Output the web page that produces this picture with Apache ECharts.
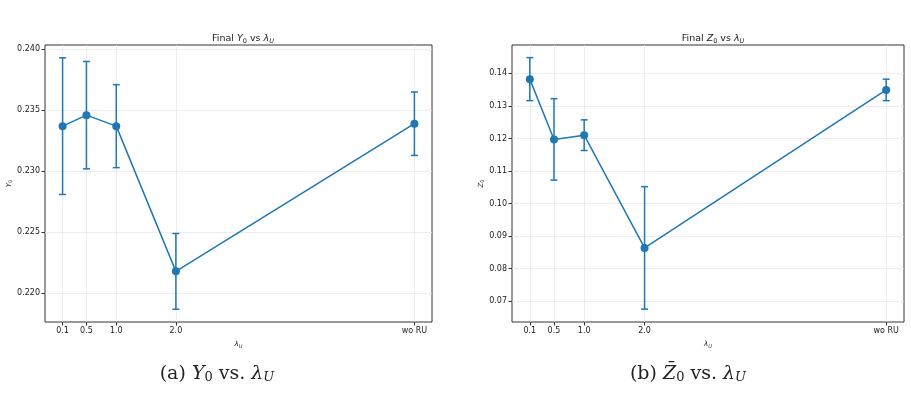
<!DOCTYPE html>
<html>
<head>
<meta charset="utf-8">
<script src="https://cdn.jsdelivr.net/npm/echarts@6/dist/echarts.min.js"></script>
<style>
  html, body { margin: 0; padding: 0; background: #fff; }
  #chart { width: 911px; height: 413px; }
</style>
</head>
<body>
<div id="chart"></div>
<script>
// x positions of the categories (wo RU placed at 6)
var lambdaPos = [0.1, 0.5, 1.0, 2.0, 6.0];
var lambdaLabels = ['0.1', '0.5', '1.0', '2.0', 'wo RU'];

var y0Mean = [0.2337, 0.2346, 0.2337, 0.2218, 0.2339];
var y0Err = [0.0056, 0.0044, 0.0034, 0.0031, 0.0026];
var y0Ticks = [0.220, 0.225, 0.230, 0.235, 0.240];

var z0Mean = [0.1382, 0.1197, 0.1210, 0.0864, 0.1349];
var z0Err = [0.0066, 0.0125, 0.0047, 0.0188, 0.0033];
var z0Ticks = [0.07, 0.08, 0.09, 0.10, 0.11, 0.12, 0.13, 0.14];

var blue = '#1f77b4';
var chart = echarts.init(document.getElementById('chart'));

function pairs(xs, ys) {
    return xs.map(function (x, i) { return [x, ys[i]]; });
}
function errData(xs, m, e) {
    return xs.map(function (x, i) { return [x, m[i] - e[i], m[i] + e[i]]; });
}

function renderErr(params, api) {
    var lo = api.coord([api.value(0), api.value(1)]);
    var hi = api.coord([api.value(0), api.value(2)]);
    var cap = 3.5;
    var st = { stroke: blue, lineWidth: 1.5 };
    return {
        type: 'group',
        children: [
            { type: 'line', shape: { x1: lo[0], y1: lo[1], x2: hi[0], y2: hi[1] }, style: st },
            { type: 'line', shape: { x1: lo[0] - cap, y1: lo[1], x2: lo[0] + cap, y2: lo[1] }, style: st },
            { type: 'line', shape: { x1: hi[0] - cap, y1: hi[1], x2: hi[0] + cap, y2: hi[1] }, style: st }
        ]
    };
}

var tickFont = { fontFamily: 'DejaVu Sans', fontSize: 8, color: '#222' };
var subRich = {
    i: { fontFamily: 'DejaVu Sans', fontStyle: 'italic', fontSize: 9.5, color: '#222' },
    s: { fontFamily: 'DejaVu Sans', fontStyle: 'italic', fontSize: 6.5, color: '#222', padding: [5, 0, 0, 0] },
    s0: { fontFamily: 'DejaVu Sans', fontSize: 6.5, color: '#222', padding: [5, 0, 0, 0] }
};
var smallRich = {
    i: { fontFamily: 'DejaVu Sans', fontStyle: 'italic', fontSize: 7, color: '#222' },
    s: { fontFamily: 'DejaVu Sans', fontStyle: 'italic', fontSize: 5, color: '#222', padding: [4, 0, 0, 0] },
    s0: { fontFamily: 'DejaVu Sans', fontSize: 5, color: '#222', padding: [4, 0, 0, 0] }
};

function xAxis(gi) {
    return {
        type: 'value', gridIndex: gi, min: -0.195, max: 6.295,
        name: '{i|λ}{s|U}', nameLocation: 'middle', nameGap: 18,
        nameTextStyle: { rich: smallRich },
        axisLine: { show: false, onZero: false },
        axisTick: { customValues: lambdaPos, length: 3.5, lineStyle: { color: '#333' } },
        axisLabel: Object.assign({
            customValues: lambdaPos, margin: 5,
            formatter: function (v) {
                var k = lambdaPos.indexOf(v);
                return k >= 0 ? lambdaLabels[k] : '';
            }
        }, tickFont),
        splitLine: { show: true, lineStyle: { color: '#e8e8e8', width: 0.8 } }
    };
}

function yAxis(gi, min, max, ticks, digits, letter) {
    return {
        type: 'value', gridIndex: gi, min: min, max: max,
        name: '{i|' + letter + '}{s0|0}', nameLocation: 'middle', nameGap: digits === 3 ? 30 : 26,
        nameTextStyle: { rich: smallRich },
        axisLine: { show: false, onZero: false },
        axisTick: { customValues: ticks, length: 3.5, lineStyle: { color: '#333' } },
        axisLabel: Object.assign({
            customValues: ticks, margin: 5,
            formatter: function (v) { return v.toFixed(digits); }
        }, tickFont),
        splitLine: { show: true, lineStyle: { color: '#e8e8e8', width: 0.8 } }
    };
}

var capRich = {
    n: { fontFamily: 'DejaVu Serif', fontSize: 19, fill: '#222' },
    i: { fontFamily: 'DejaVu Serif', fontStyle: 'italic', fontSize: 19, fill: '#222' },
    s: { fontFamily: 'DejaVu Serif', fontSize: 13, fill: '#222', padding: [8, 0, 0, 0] },
    si: { fontFamily: 'DejaVu Serif', fontStyle: 'italic', fontSize: 13, fill: '#222', padding: [8, 0, 0, 0] }
};

var option = {
    animation: false,
    title: [
        { text: 'Final {i|Y}{s0|0} vs {i|λ}{s|U}', left: 238, top: 28, textAlign: 'center',
          textStyle: { fontFamily: 'DejaVu Sans', fontSize: 9.5, fontWeight: 'normal', color: '#222', rich: subRich } },
        { text: 'Final {i|Z}{s0|0} vs {i|λ}{s|U}', left: 708, top: 28, textAlign: 'center',
          textStyle: { fontFamily: 'DejaVu Sans', fontSize: 9.5, fontWeight: 'normal', color: '#222', rich: subRich } }
    ],
    grid: [
        { left: 45, top: 45, width: 387, height: 277, show: true, borderColor: '#333', borderWidth: 1 },
        { left: 512, top: 45, width: 392, height: 277, show: true, borderColor: '#333', borderWidth: 1 }
    ],
    xAxis: [xAxis(0), xAxis(1)],
    yAxis: [
        yAxis(0, 0.21765, 0.24035, y0Ticks, 3, 'Y'),
        yAxis(1, 0.06365, 0.14868, z0Ticks, 2, 'Z')
    ],
    series: [
        { type: 'custom', xAxisIndex: 0, yAxisIndex: 0, renderItem: renderErr, data: errData(lambdaPos, y0Mean, y0Err), z: 2 },
        { type: 'line', xAxisIndex: 0, yAxisIndex: 0, data: pairs(lambdaPos, y0Mean), symbol: 'circle', symbolSize: 8,
          lineStyle: { color: blue, width: 1.5 }, itemStyle: { color: blue }, z: 3 },
        { type: 'custom', xAxisIndex: 1, yAxisIndex: 1, renderItem: renderErr, data: errData(lambdaPos, z0Mean, z0Err), z: 2 },
        { type: 'line', xAxisIndex: 1, yAxisIndex: 1, data: pairs(lambdaPos, z0Mean), symbol: 'circle', symbolSize: 8,
          lineStyle: { color: blue, width: 1.5 }, itemStyle: { color: blue }, z: 3 }
    ],
    graphic: [
        { type: 'text', x: 217, y: 374,
          style: { text: '{n|(a) }{i|Y}{s|0}{n| vs. }{i|λ}{si|U}', rich: capRich, align: 'center', verticalAlign: 'middle' } },
        { type: 'text', x: 688, y: 374,
          style: { text: '{n|(b) }{i|Z\u0304}{s|0}{n| vs. }{i|λ}{si|U}', rich: capRich, align: 'center', verticalAlign: 'middle' } }
    ]
};

chart.setOption(option);
</script>
</body>
</html>
